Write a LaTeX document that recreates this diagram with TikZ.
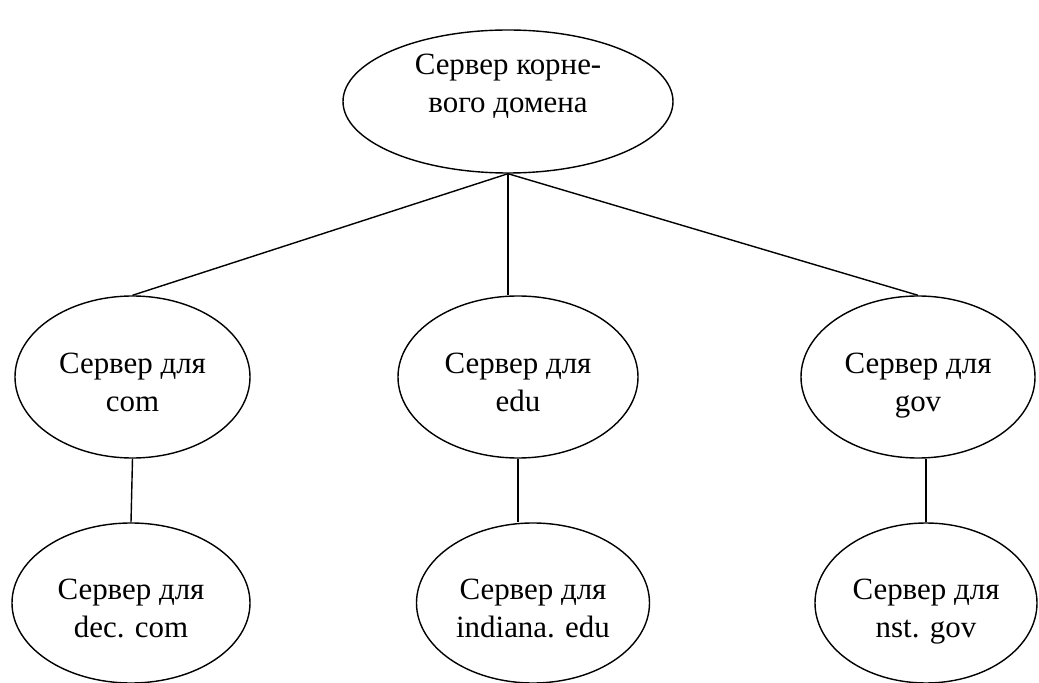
\documentclass[tikz,border=0pt]{standalone}
\usepackage{fontspec}
\setmainfont{Liberation Serif}
\usetikzlibrary{shapes.geometric}
\begin{document}
\begin{tikzpicture}[
  srv/.style={ellipse,draw,line width=0.8pt,inner sep=0pt,align=center,
    font=\fontsize{17.6}{21.5}\selectfont},
  leaf/.style={srv,text height=39pt,text depth=0pt},
  edge/.style={line width=0.8pt}]
\useasboundingbox (0,0) rectangle (20.78,-13.66);
% root
\node[srv,minimum width=6.6cm,minimum height=2.86cm,text depth=20.5pt]
  (root) at (10.16,-2.03) {Сервер корне-\\вого домена};
% second level
\node[leaf,minimum width=4.7cm,minimum height=3.24cm] (com) at (2.65,-7.54) {Сервер для\\com};
\node[leaf,minimum width=4.8cm,minimum height=3.24cm] (edu) at (10.36,-7.54) {Сервер для\\edu};
\node[leaf,minimum width=4.68cm,minimum height=3.24cm] (gov) at (18.36,-7.54) {Сервер для\\gov};
% third level
\node[leaf,minimum width=4.76cm,minimum height=3.2cm] (deccom) at (2.62,-12.06) {Сервер для\\dec. com};
\node[leaf,minimum width=4.66cm,minimum height=3.2cm] (indiana) at (10.66,-12.06) {Сервер для\\indiana. edu};
\node[leaf,minimum width=4.44cm,minimum height=3.2cm] (nst) at (18.52,-12.06) {Сервер для\\nst. gov};
\draw[edge] (root.south) -- (com.north);
\draw[edge] (root.south) -- (root.south |- edu.north);
\draw[edge] (root.south) -- (gov.north);
\draw[edge] (com.south) -- (deccom.north);
\draw[edge] (edu.south) -- (edu.south |- indiana.north);
\draw[edge] (nst.north) -- (nst.north |- gov.south);
\end{tikzpicture}
\end{document}
